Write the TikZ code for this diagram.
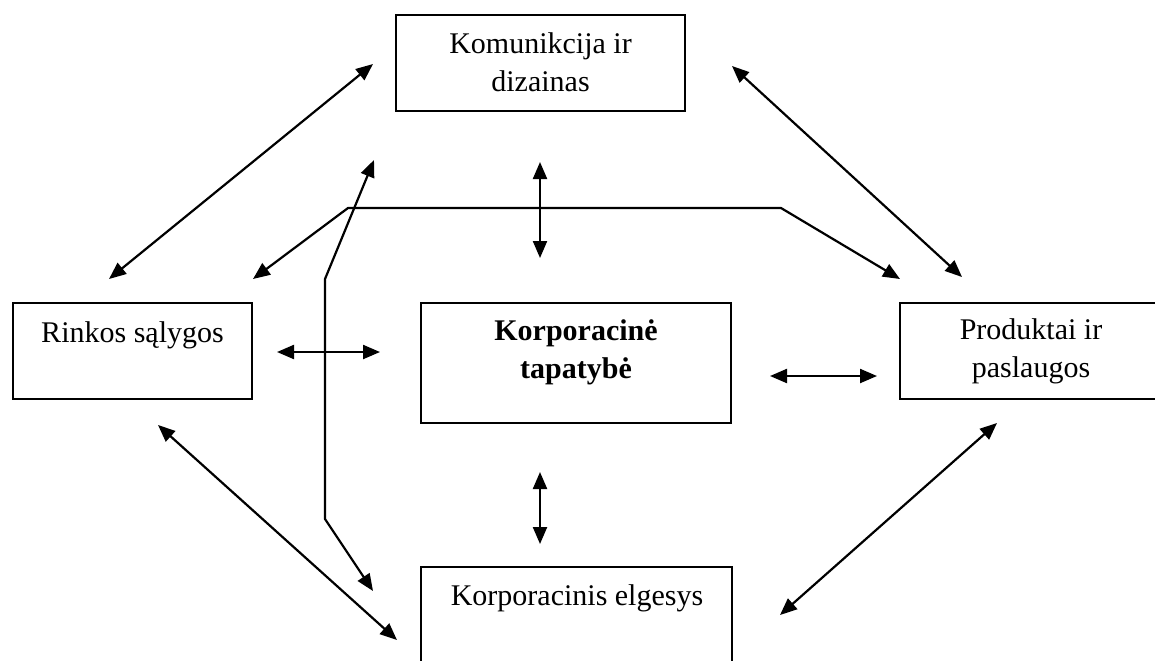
\documentclass[tikz,border=0pt]{standalone}
\usepackage{fontspec}
\setmainfont{Liberation Serif}
\usetikzlibrary{arrows.meta}
\begin{document}
\begin{tikzpicture}[x=0.5pt,y=-0.5pt,
  box/.style={draw, line width=1pt, inner sep=0pt},
  lbl/.style={font=\fontsize{15}{19}\selectfont, align=center, inner sep=0pt},
  conn/.style={line width=1.1pt, {Triangle[length=8.5pt,width=7pt]}-{Triangle[length=8.5pt,width=7pt]}}]
\useasboundingbox (0,0) rectangle (1155,660);
\clip (0,0) rectangle (1155,660);
% boxes
\node[box, minimum width=144.5pt, minimum height=48pt] (kom) at (540.5,63) {};
\node[box, minimum width=119.5pt, minimum height=48pt] (rin) at (132.5,351) {};
\node[box, minimum width=155pt, minimum height=60pt] (korp) at (576,363) {};
\node[box, minimum width=130pt, minimum height=48pt] (prod) at (1030,351) {};
\node[box, minimum width=155.5pt, minimum height=60pt] (elg) at (576.5,627) {};
% labels
\node[lbl] (komt) at (540.5,62) {Komunikcija ir\\dizainas};
\node[lbl] (rint) at (132.5,335) {Rinkos sąlygos};
\node[lbl, font=\fontsize{15}{19}\selectfont\bfseries] (korpt) at (576,352) {Korporacinė\\tapatybė};
\node[lbl] (prodt) at (1031,351) {Produktai ir\\paslaugos};
\node[lbl] (elgt) at (577,598) {Korporacinis elgesys};
% connector end points
\coordinate (a1s) at (109,279); \coordinate (a1e) at (373,64);
\coordinate (a2s) at (732,66);  \coordinate (a2e) at (962,277);
\coordinate (a3s) at (540,162); \coordinate (a3e) at (540,258);
\coordinate (a4s) at (277,352); \coordinate (a4e) at (380,352);
\coordinate (a5s) at (770,376); \coordinate (a5e) at (877,376);
\coordinate (a6s) at (540,472); \coordinate (a6e) at (540,544);
\coordinate (a7s) at (158,425); \coordinate (a7e) at (397,640);
\coordinate (a8s) at (997,423); \coordinate (a8e) at (780,615);
\coordinate (p1s) at (253,279); \coordinate (p1a) at (348,208);
\coordinate (p1b) at (781,208); \coordinate (p1e) at (900,279);
\coordinate (p2s) at (374,160); \coordinate (p2a) at (325,279);
\coordinate (p2b) at (325,519); \coordinate (p2e) at (373,591);
% connectors
\draw[conn] (a1s) -- (a1e);
\draw[conn] (a2s) -- (a2e);
\draw[conn] (a3s) -- (a3e);
\draw[conn] (a4s) -- (a4e);
\draw[conn] (a5s) -- (a5e);
\draw[conn] (a6s) -- (a6e);
\draw[conn] (a7s) -- (a7e);
\draw[conn] (a8s) -- (a8e);
\draw[conn] (p1s) -- (p1a) -- (p1b) -- (p1e);
\draw[conn] (p2s) -- (p2a) -- (p2b) -- (p2e);
\end{tikzpicture}
\end{document}
